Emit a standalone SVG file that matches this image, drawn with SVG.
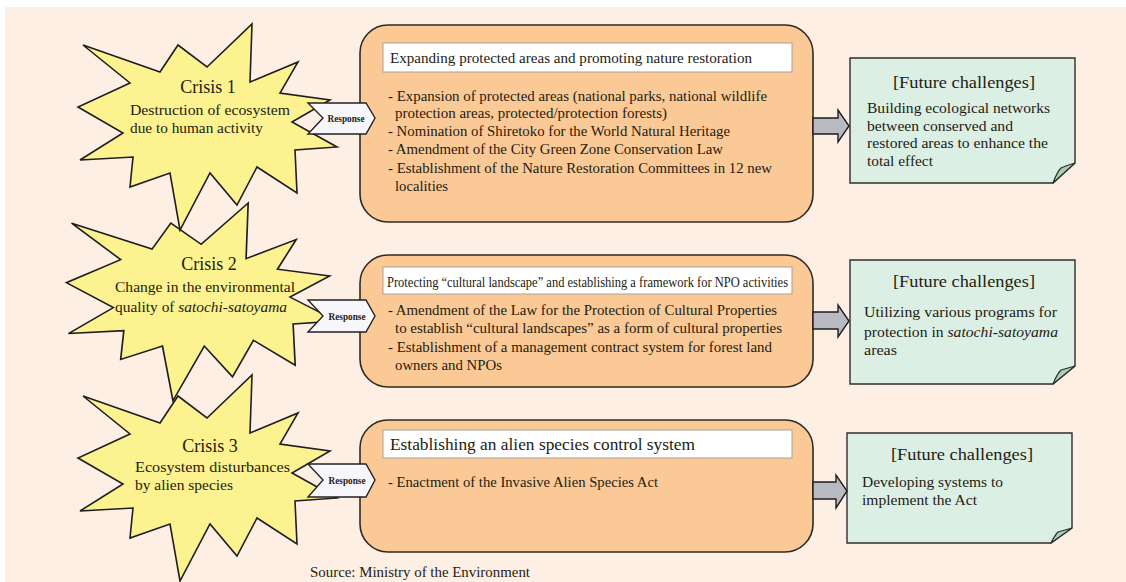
<svg xmlns="http://www.w3.org/2000/svg" xmlns:xlink="http://www.w3.org/1999/xlink" width="1126" height="582" viewBox="0 0 1126 582">
<style>
text{font-family:"Liberation Serif","Times New Roman",serif;fill:#231c12}
.star{fill:#fcf290;stroke:#1e1e1e;stroke-width:1.6;stroke-linejoin:miter}
.box{fill:#fbc996;stroke:#2e2a26;stroke-width:1.6}
.title{fill:#ffffff;stroke:#a9a29a;stroke-width:1}
.note{fill:#dcefe5;stroke:#2e2e2e;stroke-width:1.4}
.fold{fill:#a9cdb9;stroke:#2e2e2e;stroke-width:1.2;stroke-linejoin:round}
.resp{fill:#f6f6fb;stroke:#222;stroke-width:1.4}
.garrow{fill:#b9b9c2;stroke:#1e1e1e;stroke-width:1.4}
.ct{font-size:18px}
.st{font-size:15.5px}
.bt{font-size:15px}
.fh{font-size:17.5px}
.rt{font-size:10.5px;font-weight:bold}
</style>
<defs>
<polygon id="star" points="83,45 160,72 178,45 207,67 252,24 250,82 298,62 280,93 330,100 292,122 337,147 295,150 297,193 257,167 237,205 210,173 180,230 170,173 130,187 133,157 80,160 123,133 78,107 130,83"/>
</defs>
<rect x="0" y="0" width="1126" height="582" fill="#ffffff"/>
<rect x="5" y="7" width="1121" height="575" fill="#fdefe3"/>

<g id="crisis3">
<use xlink:href="#star" class="star" transform="translate(0,351)"/>
<text class="ct" x="210" y="452" text-anchor="middle">Crisis 3</text>
<text class="st" x="135" y="472" textLength="155" lengthAdjust="spacingAndGlyphs">Ecosystem disturbances</text>
<text class="st" x="135" y="490" textLength="98" lengthAdjust="spacingAndGlyphs">by alien species</text>
</g>
<g id="crisis2">
<use xlink:href="#star" class="star" transform="translate(337,203) scale(1.045,0.96) translate(-337,-24)"/>
<text class="ct" x="209" y="270" text-anchor="middle">Crisis 2</text>
<text class="st" x="115" y="292" textLength="180" lengthAdjust="spacingAndGlyphs">Change in the environmental</text>
<text class="st" x="115" y="312" textLength="172" lengthAdjust="spacingAndGlyphs">quality of <tspan font-style="italic">satochi-satoyama</tspan></text>
</g>
<g id="crisis1">
<use xlink:href="#star" class="star"/>
<text class="ct" x="208" y="93" text-anchor="middle">Crisis 1</text>
<text class="st" x="130" y="115" textLength="160" lengthAdjust="spacingAndGlyphs">Destruction of ecosystem</text>
<text class="st" x="130" y="133" textLength="133" lengthAdjust="spacingAndGlyphs">due to human activity</text>
</g>

<g id="response1">
<rect class="box" x="360" y="25" width="453" height="197" rx="28" ry="28"/>
<rect class="title" x="383" y="43" width="409" height="29"/>
<text x="390" y="63" font-size="15.5" textLength="362" lengthAdjust="spacingAndGlyphs">Expanding protected areas and promoting nature restoration</text>
<text class="bt" x="388" y="101" textLength="379" lengthAdjust="spacingAndGlyphs">- Expansion of protected areas (national parks, national wildlife</text>
<text class="bt" x="395" y="118" textLength="272" lengthAdjust="spacingAndGlyphs">protection areas, protected/protection forests)</text>
<text class="bt" x="388" y="136" textLength="342" lengthAdjust="spacingAndGlyphs">- Nomination of Shiretoko for the World Natural Heritage</text>
<text class="bt" x="388" y="154" textLength="335" lengthAdjust="spacingAndGlyphs">- Amendment of the City Green Zone Conservation Law</text>
<text class="bt" x="388" y="173" textLength="384" lengthAdjust="spacingAndGlyphs">- Establishment of the Nature Restoration Committees in 12 new</text>
<text class="bt" x="395" y="191" textLength="53" lengthAdjust="spacingAndGlyphs">localities</text>
</g>

<g id="response2">
<rect class="box" x="360" y="255" width="453" height="132" rx="28" ry="28"/>
<rect class="title" x="383" y="267" width="409" height="27"/>
<text x="387" y="287" font-size="14.5" textLength="401" lengthAdjust="spacingAndGlyphs">Protecting “cultural landscape” and establishing a framework for NPO activities</text>
<text class="bt" x="388" y="315" textLength="389" lengthAdjust="spacingAndGlyphs">- Amendment of the Law for the Protection of Cultural Properties</text>
<text class="bt" x="395" y="333" textLength="387" lengthAdjust="spacingAndGlyphs">to establish “cultural landscapes” as a form of cultural properties</text>
<text class="bt" x="388" y="352" textLength="384" lengthAdjust="spacingAndGlyphs">- Establishment of a management contract system for forest land</text>
<text class="bt" x="395" y="370" textLength="107" lengthAdjust="spacingAndGlyphs">owners and NPOs</text>
</g>

<g id="response3">
<rect class="box" x="360" y="420" width="453" height="132" rx="28" ry="28"/>
<rect class="title" x="383" y="430" width="409" height="28"/>
<text x="390" y="450" font-size="17" textLength="305" lengthAdjust="spacingAndGlyphs">Establishing an alien species control system</text>
<text class="bt" x="388" y="487" textLength="270" lengthAdjust="spacingAndGlyphs">- Enactment of the Invasive Alien Species Act</text>
</g>

<g id="future1">
<path class="note" d="M850,58 H1075 V163 L1053,183 H850 Z"/>
<path class="fold" d="M1053,183 Q1057,172 1061,168 Q1068,165 1075,163 Z"/>
<text class="fh" x="964" y="88" text-anchor="middle" textLength="142" lengthAdjust="spacingAndGlyphs">[Future challenges]</text>
<text class="bt" x="867" y="113" textLength="183" lengthAdjust="spacingAndGlyphs">Building ecological networks</text>
<text class="bt" x="867" y="131" textLength="146" lengthAdjust="spacingAndGlyphs">between conserved and</text>
<text class="bt" x="867" y="148" textLength="181" lengthAdjust="spacingAndGlyphs">restored areas to enhance the</text>
<text class="bt" x="867" y="166" textLength="66" lengthAdjust="spacingAndGlyphs">total effect</text>
</g>

<g id="future2">
<path class="note" d="M850,260 H1075 V366 L1053,384 H850 Z"/>
<path class="fold" d="M1053,384 Q1057,374 1061,370 Q1068,368 1075,366 Z"/>
<text class="fh" x="964" y="287" text-anchor="middle" textLength="142" lengthAdjust="spacingAndGlyphs">[Future challenges]</text>
<text class="bt" x="864" y="317" textLength="193" lengthAdjust="spacingAndGlyphs">Utilizing various programs for</text>
<text class="bt" x="864" y="337" textLength="194" lengthAdjust="spacingAndGlyphs">protection in <tspan font-style="italic">satochi-satoyama</tspan></text>
<text class="bt" x="864" y="355" textLength="33" lengthAdjust="spacingAndGlyphs">areas</text>
</g>

<g id="future3">
<path class="note" d="M847,433 H1072 V528 L1051,543 H847 Z"/>
<path class="fold" d="M1051,543 Q1055,535 1058,532 Q1065,530 1072,528 Z"/>
<text class="fh" x="962" y="460" text-anchor="middle" textLength="142" lengthAdjust="spacingAndGlyphs">[Future challenges]</text>
<text class="bt" x="862" y="487" textLength="141" lengthAdjust="spacingAndGlyphs">Developing systems to</text>
<text class="bt" x="862" y="505" textLength="115" lengthAdjust="spacingAndGlyphs">implement the Act</text>
</g>

<g id="connectors">
<polygon class="resp" points="308,103 366,103 375,118 366,134 308,134 323,118"/>
<text class="rt" x="346" y="122" text-anchor="middle" textLength="37" lengthAdjust="spacingAndGlyphs">Response</text>
<polygon class="resp" points="308,300 366,300 375,316 366,332 308,332 323,316"/>
<text class="rt" x="347" y="320" text-anchor="middle" textLength="37" lengthAdjust="spacingAndGlyphs">Response</text>
<polygon class="resp" points="308,464 366,464 375,480 366,497 308,497 323,480"/>
<text class="rt" x="347" y="484" text-anchor="middle" textLength="37" lengthAdjust="spacingAndGlyphs">Response</text>
<polygon class="garrow" points="813,118 838,118 838,110 849,126 838,142 838,134 813,134"/>
<polygon class="garrow" points="813,312 838,312 838,305 849,321 838,337 838,329 813,329"/>
<polygon class="garrow" points="813,482 836,482 836,475 847,491 836,508 836,499 813,499"/>
</g>

<text x="310" y="577" font-size="14.5" textLength="220" lengthAdjust="spacingAndGlyphs">Source: Ministry of the Environment</text>
</svg>
